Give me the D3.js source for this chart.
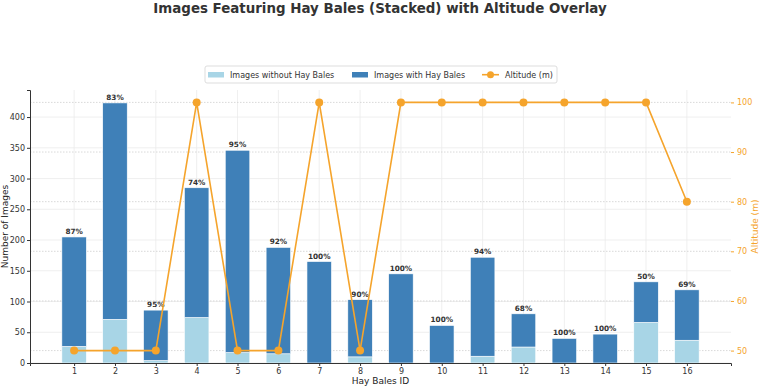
<!DOCTYPE html>
<html>
<head>
<meta charset="utf-8">
<script src="https://cdn.jsdelivr.net/npm/d3@7"></script>
<style>
  body { margin: 0; background: #fff; }
  svg text { font-family: "DejaVu Sans", sans-serif; }
</style>
</head>
<body>
<div id="chart"></div>
<script>
// hay bale image counts per ID, with altitude overlay on a second axis
const ids = ["1","2","3","4","5","6","7","8","9","10","11","12","13","14","15","16"];
const totalImages = [205, 423, 86, 285, 346, 188, 165, 103, 145, 61, 172, 80, 40, 47, 132, 119];
const withoutBales = [27, 71, 4, 74, 17, 15, 0, 10, 0, 0, 11, 26, 0, 0, 66, 37];
const altitude = [50, 50, 50, 100, 50, 50, 100, 50, 100, 100, 100, 100, 100, 100, 100, 80];
const leftTicks = [0, 50, 100, 150, 200, 250, 300, 350, 400];
const rightTicks = [50, 60, 70, 80, 90, 100];

const W = 760, H = 386;
const margin = {top: 90, right: 29, bottom: 23, left: 30};
const width = W - margin.left - margin.right;
const height = H - margin.top - margin.bottom;

const lightBlue = "#a8d5e6";
const darkBlue = "#3f80b8";
const orange = "#f5a42c";

const svg = d3.select("#chart").append("svg")
    .attr("width", W)
    .attr("height", H);

const g = svg.append("g")
    .attr("transform", "translate(" + margin.left + "," + margin.top + ")");

// index scale, matplotlib-like padding around bars of width 0.6
const x = d3.scaleLinear().domain([-1.08, 16.08]).range([0, width]);
const barW = x(0.6) - x(0);
const y = d3.scaleLinear().domain([0, 444]).range([height, 0]);
const y2 = d3.scaleLinear().domain([47.5, 102.5]).range([height, 0]);

// grid lines
g.append("g").selectAll("line").data(ids)
    .join("line")
    .attr("x1", (d, i) => x(i)).attr("x2", (d, i) => x(i))
    .attr("y1", 0).attr("y2", height)
    .attr("stroke", "#ebebeb").attr("stroke-width", 0.8);

g.append("g").selectAll("line").data(leftTicks)
    .join("line")
    .attr("x1", 0).attr("x2", width)
    .attr("y1", d => y(d)).attr("y2", d => y(d))
    .attr("stroke", "#ebebeb").attr("stroke-width", 0.8);

g.append("g").selectAll("line").data(rightTicks)
    .join("line")
    .attr("x1", 0).attr("x2", width)
    .attr("y1", d => y2(d)).attr("y2", d => y2(d))
    .attr("stroke", "#cfcfcf").attr("stroke-width", 0.8)
    .attr("stroke-dasharray", "1.5,1.5");

// stacked bars
const withBales = totalImages.map((t, i) => t - withoutBales[i]);

g.append("g").selectAll("rect").data(ids)
    .join("rect")
    .attr("x", (d, i) => x(i) - barW / 2)
    .attr("width", barW)
    .attr("y", (d, i) => y(withoutBales[i]))
    .attr("height", (d, i) => y(0) - y(withoutBales[i]))
    .attr("fill", lightBlue)
    .attr("stroke", "#ffffff").attr("stroke-width", 0.6);

g.append("g").selectAll("rect").data(ids)
    .join("rect")
    .attr("x", (d, i) => x(i) - barW / 2)
    .attr("width", barW)
    .attr("y", (d, i) => y(totalImages[i]))
    .attr("height", (d, i) => y(withoutBales[i]) - y(totalImages[i]))
    .attr("fill", darkBlue)
    .attr("stroke", "#ffffff").attr("stroke-width", 0.6);

// percentage labels
g.append("g").selectAll("text").data(ids)
    .join("text")
    .attr("x", (d, i) => x(i))
    .attr("y", (d, i) => y(totalImages[i]) - 3)
    .attr("text-anchor", "middle")
    .attr("font-size", 7.3)
    .attr("font-weight", "bold")
    .attr("fill", "#333")
    .text((d, i) => Math.round(withBales[i] / totalImages[i] * 100) + "%");

// axes
const xAxis = d3.axisBottom(x).tickValues(d3.range(ids.length))
    .tickFormat(i => ids[i]).tickSize(3).tickPadding(2);
const gx = g.append("g")
    .attr("transform", "translate(0," + height + ")")
    .call(xAxis);
gx.select(".domain").attr("stroke", "#333").attr("stroke-width", 1);

const yAxis = d3.axisLeft(y).tickValues(leftTicks).tickSize(3).tickPadding(2);
const gy = g.append("g").call(yAxis);
gy.select(".domain").attr("stroke", "#333").attr("stroke-width", 1);

const yAxis2 = d3.axisRight(y2).tickValues(rightTicks).tickSize(3).tickPadding(3);
const gy2 = g.append("g")
    .attr("transform", "translate(" + width + ",0)")
    .call(yAxis2);
gy2.select(".domain").remove();
gy2.selectAll("line").attr("stroke", orange);

[gx, gy].forEach(a => {
    a.selectAll("text").attr("font-size", 8).attr("fill", "#333");
    a.selectAll(".tick line").attr("stroke", "#333");
});
gy2.selectAll("text").attr("font-size", 8).attr("fill", orange);

// altitude line
const line = d3.line()
    .x((d, i) => x(i))
    .y(d => y2(d));

g.append("path")
    .datum(altitude)
    .attr("d", line)
    .attr("fill", "none")
    .attr("stroke", orange)
    .attr("stroke-width", 1.6);

g.append("g").selectAll("circle").data(altitude)
    .join("circle")
    .attr("cx", (d, i) => x(i))
    .attr("cy", d => y2(d))
    .attr("r", 4)
    .attr("fill", orange);

// axis titles
svg.append("text")
    .attr("x", margin.left + width / 2)
    .attr("y", H - 2)
    .attr("text-anchor", "middle")
    .attr("font-size", 9)
    .attr("fill", "#222")
    .text("Hay Bales ID");

svg.append("text")
    .attr("transform", "translate(8," + (margin.top + height / 2) + ") rotate(-90)")
    .attr("text-anchor", "middle")
    .attr("font-size", 9)
    .attr("fill", "#222")
    .text("Number of Images");

svg.append("text")
    .attr("transform", "translate(758," + (margin.top + height / 2) + ") rotate(-90)")
    .attr("text-anchor", "middle")
    .attr("font-size", 9)
    .attr("fill", orange)
    .text("Altitude (m)");

// title
svg.append("text")
    .attr("x", 380)
    .attr("y", 13)
    .attr("text-anchor", "middle")
    .attr("font-size", 13.4)
    .attr("font-weight", "bold")
    .attr("fill", "#333")
    .text("Images Featuring Hay Bales (Stacked) with Altitude Overlay");

// legend
const legend = svg.append("g").attr("transform", "translate(205,66)");
legend.append("rect")
    .attr("width", 352).attr("height", 17).attr("rx", 2)
    .attr("fill", "#fff").attr("stroke", "#dddddd");

legend.append("rect").attr("x", 3).attr("y", 6).attr("width", 16).attr("height", 5.5).attr("fill", lightBlue);
legend.append("text").attr("x", 25).attr("y", 12).attr("font-size", 8).attr("fill", "#333")
    .text("Images without Hay Bales");

legend.append("rect").attr("x", 147).attr("y", 6).attr("width", 16).attr("height", 5.5).attr("fill", darkBlue);
legend.append("text").attr("x", 169).attr("y", 12).attr("font-size", 8).attr("fill", "#333")
    .text("Images with Hay Bales");

legend.append("line").attr("x1", 277).attr("x2", 294).attr("y1", 8.7).attr("y2", 8.7)
    .attr("stroke", orange).attr("stroke-width", 1.6);
legend.append("circle").attr("cx", 285.5).attr("cy", 8.7).attr("r", 3.5).attr("fill", orange);
legend.append("text").attr("x", 300).attr("y", 12).attr("font-size", 8).attr("fill", "#333")
    .text("Altitude (m)");
</script>
</body>
</html>
